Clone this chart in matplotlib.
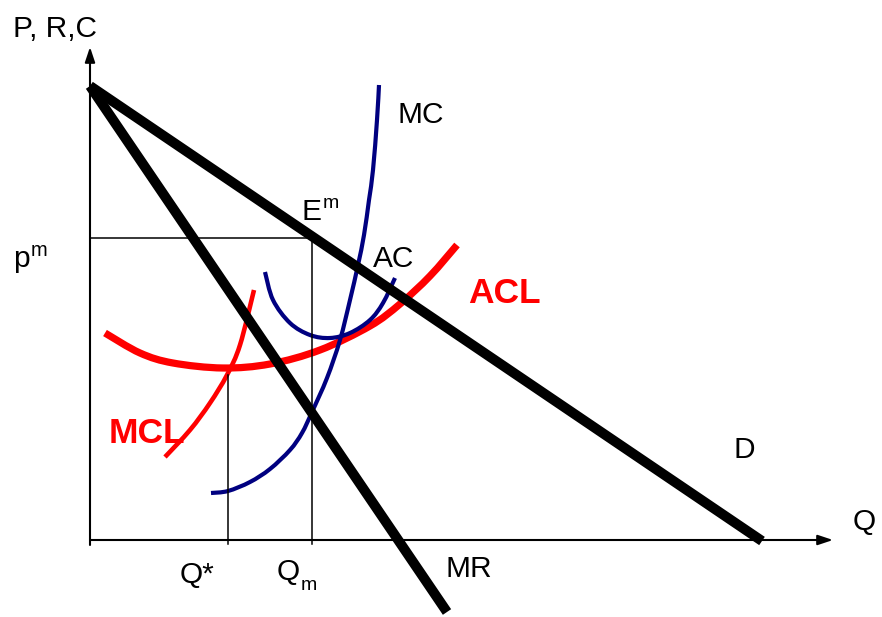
import matplotlib
matplotlib.use("Agg")
import matplotlib.pyplot as plt
from matplotlib.path import Path
from matplotlib.patches import PathPatch
import numpy as np

plt.rcParams['font.family'] = ['Liberation Sans', 'DejaVu Sans']

# ---- data (Q, P in chart units) ----
demand_q = [0, 672]
demand_p = [454, -1]

mr_q = [0, 357]
mr_p = [454, -72]

mc_q = [121, 138, 160, 180, 200, 212, 222, 237, 250, 260, 268, 274, 279, 283, 287, 289]
mc_p = [47, 49, 58, 71, 90, 107, 128, 162, 200, 240, 275, 305, 340, 370, 420, 455]

ac_q = [175, 183, 200, 220, 240, 260, 280, 293, 305]
ac_p = [268, 240, 217, 205, 202, 207, 220, 237, 262]

acl_q = [15, 50, 83, 133, 180, 230, 280, 310, 340, 367]
acl_p = [207, 187, 177, 172, 176, 190, 214, 236, 264, 295]

mcl_q = [75, 100, 120, 137, 150, 164]
mcl_p = [83, 110, 137, 165, 195, 250]

p_m = 302
q_m = 222
q_star = 138
p_star = 165

NAVY = '#000080'
RED = '#ff0000'

fig = plt.figure(figsize=(8.82, 6.17), dpi=100)
ax = fig.add_axes([0, 0, 1, 1])
ax.set_xlim(-90, 792)
ax.set_ylim(-77, 540)
ax.axis('off')


def smooth_curve(xs, ys, color, lw):
    """Draw a smooth (Catmull-Rom style) curve through the read points."""
    pts = np.column_stack([xs, ys]).astype(float)
    n = len(pts)
    verts = [pts[0]]
    codes = [Path.MOVETO]
    for i in range(n - 1):
        p0 = pts[i - 1] if i > 0 else pts[i]
        p1 = pts[i]
        p2 = pts[i + 1]
        p3 = pts[i + 2] if i + 2 < n else pts[i + 1]
        c1 = p1 + (p2 - p0) / 6.0
        c2 = p2 - (p3 - p1) / 6.0
        verts += [c1, c2, p2]
        codes += [Path.CURVE4] * 3
    patch = PathPatch(Path(verts, codes), facecolor='none', edgecolor=color,
                      lw=lw, capstyle='butt', joinstyle='round')
    ax.add_patch(patch)


# axes with arrows
ax.annotate("", xy=(0, 493), xytext=(0, -5),
            arrowprops=dict(arrowstyle='-|>,head_length=0.9,head_width=0.3',
                            lw=1.5, color='black', shrinkA=0, shrinkB=0))
ax.annotate("", xy=(743, 0), xytext=(0, 0),
            arrowprops=dict(arrowstyle='-|>,head_length=0.9,head_width=0.3',
                            lw=1.5, color='black', shrinkA=0, shrinkB=0))

# guide lines
ax.plot([0, q_m], [p_m, p_m], color='black', lw=1.1)
ax.plot([q_m, q_m], [p_m, -4], color='black', lw=1.1)
ax.plot([q_star, q_star], [p_star, -4], color='black', lw=1.1)

# curves
smooth_curve(acl_q, acl_p, RED, 5.2)
smooth_curve(mcl_q, mcl_p, RED, 3.3)
smooth_curve(ac_q, ac_p, NAVY, 3.0)
smooth_curve(mc_q, mc_p, NAVY, 3.0)
ax.plot(demand_q, demand_p, color='black', lw=7.2, solid_capstyle='butt')
ax.plot(mr_q, mr_p, color='black', lw=7.2, solid_capstyle='butt')

# labels (pixel -> data: Q = x-90, P = 540-y)
fs = 21.5
def lab(x, y, s, size=fs, **kw):
    ax.text(x - 90, 540 - y, s, fontsize=size, ha='left', va='baseline', **kw)

lab(13, 37, "P, R,C")
lab(397, 123, "MC")
lab(302, 220, "E")
lab(323, 208, "m", size=14)
lab(373, 267, "AC")
lab(468, 303, "ACL", size=25.5, color=RED, fontweight='bold')
lab(109, 443, "MCL", size=25.5, color=RED, fontweight='bold')
lab(733, 458, "D")
lab(853, 530, "Q")
lab(180, 583, "Q*")
lab(277, 580, "Q")
lab(301, 590, "m", size=14)
lab(445, 577, "MR")
lab(13, 267, "p")
lab(31, 256, "m", size=14.5)

fig.savefig("out.png", dpi=100)
